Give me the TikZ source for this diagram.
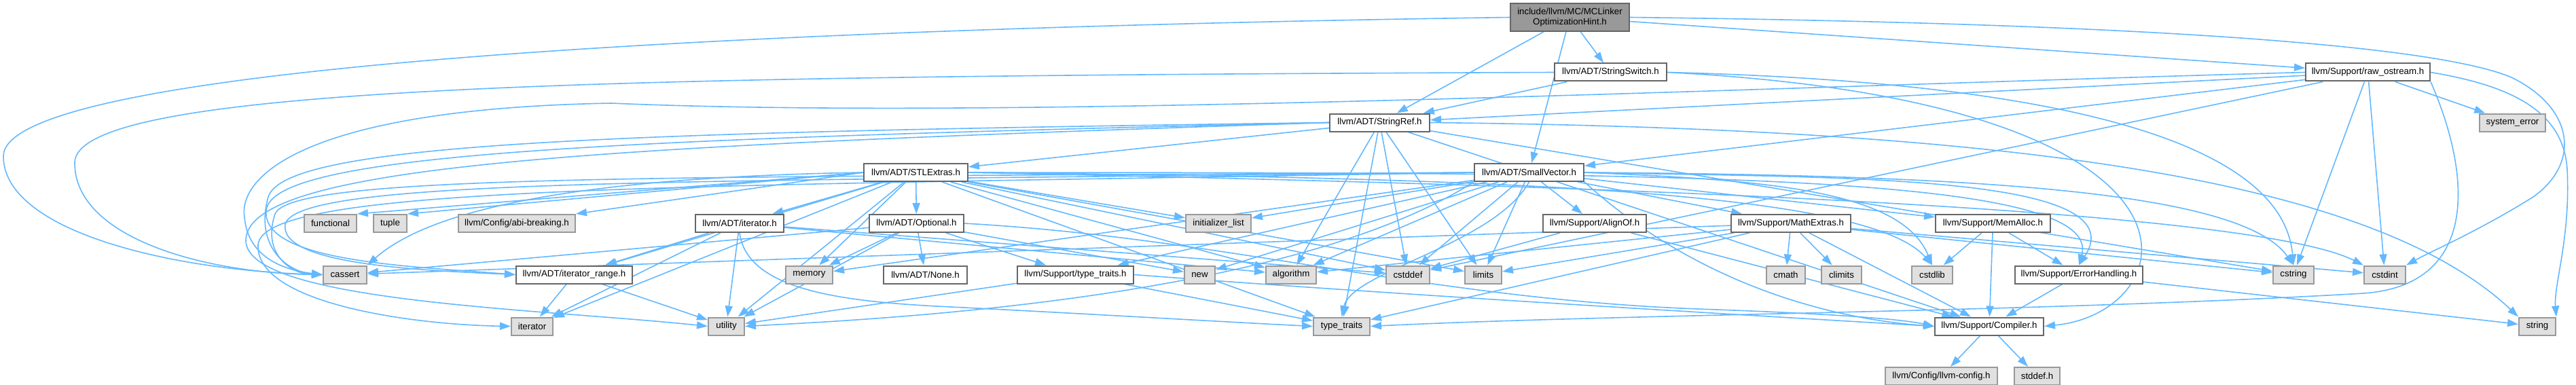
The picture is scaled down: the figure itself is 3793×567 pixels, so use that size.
\documentclass[tikz,border=0pt]{standalone}
\usepackage{fontspec}
\setmainfont{Liberation Sans}
\usetikzlibrary{arrows.meta,backgrounds}
\definecolor{edgeblue}{HTML}{63B8FF}
\definecolor{docborder}{HTML}{666666}
\definecolor{extfill}{HTML}{E0E0E0}
\definecolor{extborder}{HTML}{999999}
\definecolor{mainfill}{HTML}{999999}
\begin{document}
\begin{tikzpicture}[x=1pt,y=-1pt,
  box/.style={draw=docborder, line width=2pt, fill=white, minimum height=26pt, inner sep=0pt,
    font=\fontsize{13.3}{14.5}\selectfont, anchor=center},
  doc/.style={box},
  ext/.style={box, draw=extborder, fill=extfill},
  mainnode/.style={box, fill=mainfill, minimum height=41pt, align=center},
  e/.style={draw=edgeblue, line width=1.6pt, -{Triangle[length=16pt,width=11pt]}},
]
\useasboundingbox (0,0) rectangle (3793,567);
% row A/B/C/D
\node[mainnode, minimum width=175pt] (main) at (2311.5,25.5) {include/llvm/MC/MCLinker\\OptimizationHint.h};
\node[doc, minimum width=165pt] (sswitch) at (2371.5,106.5) {llvm/ADT/StringSwitch.h};
\node[doc, minimum width=183pt] (rawos) at (3486.5,106.5) {llvm/Support/raw\_ostream.h};
\node[doc, minimum width=147pt] (sref) at (2031.5,180.5) {llvm/ADT/StringRef.h};
\node[ext, minimum width=97pt] (syserr) at (3699.5,180.5) {system\_error};
\node[doc, minimum width=153pt] (stlx) at (1348.5,254) {llvm/ADT/STLExtras.h};
\node[doc, minimum width=161pt] (svec) at (2251.5,254) {llvm/ADT/SmallVector.h};
% row E
\node[ext, minimum width=77pt] (functional) at (486.5,329) {functional};
\node[ext, minimum width=49pt] (tuple) at (574.5,329) {tuple};
\node[ext, minimum width=172pt] (abi) at (761,329) {llvm/Config/abi-breaking.h};
\node[doc, minimum width=130pt] (iterh) at (1089,329) {llvm/ADT/iterator.h};
\node[doc, minimum width=139pt] (optional) at (1349.5,329) {llvm/ADT/Optional.h};
\node[ext, minimum width=96pt] (initlist) at (1794,329) {initializer\_list};
\node[doc, minimum width=152pt] (alignof) at (2348,329) {llvm/Support/AlignOf.h};
\node[doc, minimum width=176pt] (mathx) at (2637,329) {llvm/Support/MathExtras.h};
\node[doc, minimum width=169pt] (memalloc) at (2934.5,329) {llvm/Support/MemAlloc.h};
% row F
\node[ext, minimum width=64pt] (cassert) at (508,404.5) {cassert};
\node[doc, minimum width=171pt] (iterrange) at (845.5,404.5) {llvm/ADT/iterator\_range.h};
\node[ext, minimum width=69pt] (memory) at (1191.5,404.5) {memory};
\node[doc, minimum width=123pt] (none) at (1362.5,404.5) {llvm/ADT/None.h};
\node[doc, minimum width=171pt] (typetraitsh) at (1583.5,404.5) {llvm/Support/type\_traits.h};
\node[ext, minimum width=45pt] (new) at (1766.5,404.5) {new};
\node[ext, minimum width=74pt] (algorithm) at (1901,404.5) {algorithm};
\node[ext, minimum width=64pt] (cstddef) at (2073,404.5) {cstddef};
\node[ext, minimum width=54pt] (limits) at (2184,404.5) {limits};
\node[ext, minimum width=57pt] (cmath) at (2629.5,404.5) {cmath};
\node[ext, minimum width=59pt] (climits) at (2711.5,404.5) {climits};
\node[ext, minimum width=60pt] (cstdlib) at (2845,404.5) {cstdlib};
\node[doc, minimum width=188pt] (errh) at (3061,404.5) {llvm/Support/ErrorHandling.h};
\node[ext, minimum width=60pt] (cstring) at (3377,404.5) {cstring};
\node[ext, minimum width=61pt] (cstdint) at (3511.5,404.5) {cstdint};
% row G
\node[ext, minimum width=61pt] (iterator) at (783.5,480.5) {iterator};
\node[ext, minimum width=53pt] (utility) at (1069.5,480.5) {utility};
\node[ext, minimum width=83pt] (typetraits) at (1975.5,480.5) {type\_traits};
\node[doc, minimum width=160pt] (compiler) at (2929,480.5) {llvm/Support/Compiler.h};
\node[ext, minimum width=54pt] (string) at (3736,480.5) {string};
% row H
\node[ext, minimum width=165pt] (llvmconfig) at (2858.5,554) {llvm/Config/llvm-config.h};
\node[ext, minimum width=67pt] (stddef) at (2999.5,554) {stddef.h};

\begin{pgfonlayer}{background}
% main
\draw[e] (main.west) .. controls (900,45) and (5,110) .. (5,230) .. controls (5,340) and (250,398) .. (cassert.west);
\draw[e] (main) -- (sref);
\draw[e] (main) -- (svec);
\draw[e] (main) -- (sswitch);
\draw[e] (main) -- (rawos);
\draw[e] (main.east) .. controls (3200,35) and (3600,70) .. (3700,115) .. controls (3790,160) and (3800,240) .. (3730,290) .. controls (3650,340) and (3580,370) .. (cstdint.north east);
% StringSwitch
\draw[e] (sswitch) -- (sref);
\draw[e] (sswitch.west) .. controls (900,112) and (110,125) .. (110,240) .. controls (110,350) and (300,402) .. (cassert.west);
\draw[e] (sswitch.east) .. controls (3000,120) and (3360,200) .. (cstring.north);
\draw[e] (sswitch.east) .. controls (3300,150) and (3220,460) .. (compiler.east);
% raw_ostream
\draw[e] (rawos) -- (sref);
\draw[e] (rawos) -- (svec);
\draw[e] (rawos) -- (syserr);
\draw[e] (rawos) -- (cstring);
\draw[e] (rawos) -- (cstdint);
\draw[e] (rawos) -- (cstddef);
\draw[e] (rawos.east) .. controls (3690,125) and (3775,160) .. (3780,250) .. controls (3785,350) and (3760,420) .. (string.north east);
\draw[e] (rawos.south east) .. controls (3640,260) and (3650,420) .. (3480,432) .. controls (3000,460) and (2400,462) .. (typetraits.east);
\draw[e] (rawos.west) .. controls (2600,128) and (1500,178) .. (900,152) .. controls (450,160) and (350,260) .. (360,320) .. controls (365,380) and (420,398) .. (cassert.west);
% StringRef
\draw[e] (sref) -- (stlx);
\draw[e] (sref.west) .. controls (900,195) and (420,210) .. (395,290) .. controls (375,360) and (420,400) .. (cassert.west);
\draw[e] (sref.west) .. controls (900,205) and (400,225) .. (392,310) .. controls (385,385) and (600,392) .. (iterrange.west);
\draw[e] (sref.west) .. controls (900,215) and (360,240) .. (362,355) .. controls (365,445) and (800,455) .. (utility.west);
\draw[e] (sref) -- (compiler);
\draw[e] (sref) -- (cstring);
\draw[e] (sref.east) .. controls (3000,190) and (3500,270) .. (string.north west);
\draw[e] (sref) -- (limits);
\draw[e] (sref) -- (cstddef);
\draw[e] (sref) -- (algorithm);
\draw[e] (sref) -- (typetraits);
% STLExtras
\draw[e] (stlx) -- (optional);
\draw[e] (stlx) -- (iterh);
\draw[e] (stlx) -- (iterrange);
\draw[e] (stlx.west) -- (abi.north east);
\draw[e] (stlx.west) -- (tuple.north east);
\draw[e] (stlx.west) -- (functional.north east);
\draw[e] (stlx.west) .. controls (800,262) and (620,320) .. (cassert.north east);
\draw[e] (stlx.east) .. controls (2400,255) and (3100,250) .. (errh.north);
\draw[e] (stlx) -- (algorithm);
\draw[e] (stlx) -- (cstddef);
\draw[e] (stlx.east) .. controls (2200,270) and (3300,300) .. (cstdint.north west);
\draw[e] (stlx.east) .. controls (2200,262) and (2750,280) .. (cstdlib.north);
\draw[e] (stlx) -- (initlist);
\draw[e] (stlx) -- (iterator);
\draw[e] (stlx) -- (limits);
\draw[e] (stlx) -- (memory);
\draw[e] (stlx) -- (typetraits);
\draw[e] (stlx) -- (utility);
% iterator.h
\draw[e] (iterh) -- (iterrange);
\draw[e] (iterh) -- (iterator);
\draw[e] (iterh) -- (utility);
\draw[e] (iterh.south) .. controls (1100,430) and (1250,445) .. (1400,452) .. controls (1600,462) and (1800,474) .. (typetraits.west);
\draw[e] (iterh) -- (cstddef);
\draw[e] (iterh) -- (algorithm);
% iterator_range.h
\draw[e] (iterrange) -- (iterator);
\draw[e] (iterrange) -- (utility);
% Optional.h
\draw[e] (optional) -- (none);
\draw[e] (optional) -- (typetraitsh);
\draw[e] (optional) -- (memory);
\draw[e] (optional) -- (new);
\draw[e] (optional) -- (utility);
\draw[e] (optional) -- (cassert);
\draw[e] (optional.east) .. controls (1800,350) and (2100,440) .. (2500,455) .. controls (2700,462) and (2800,470) .. (compiler.west);
% type_traits.h
\draw[e] (typetraitsh) -- (utility);
\draw[e] (typetraitsh) -- (typetraits);
\draw[e] (typetraitsh.east) .. controls (2000,430) and (2500,460) .. (compiler.west);
% SmallVector
\draw[e] (svec.west) .. controls (1000,262) and (430,255) .. (405,315) .. controls (385,375) and (430,404) .. (cassert.west);
\draw[e] (svec.west) .. controls (1000,268) and (440,262) .. (420,330) .. controls (410,390) and (620,398) .. (iterrange.west);
\draw[e] (svec.west) .. controls (1000,275) and (390,272) .. (380,360) .. controls (375,445) and (600,478) .. (iterator.west);
\draw[e] (svec) -- (alignof);
\draw[e] (svec) -- (mathx);
\draw[e] (svec) -- (memalloc);
\draw[e] (svec) -- (typetraitsh);
\draw[e] (svec) -- (algorithm);
\draw[e] (svec) -- (cstddef);
\draw[e] (svec) -- (limits);
\draw[e] (svec) -- (initlist);
\draw[e] (svec) -- (new);
\draw[e] (svec) -- (memory);
\draw[e] (svec.south west) .. controls (1900,440) and (1300,470) .. (utility.east);
\draw[e] (svec.south) .. controls (2200,360) and (1990,400) .. (typetraits.north);
\draw[e] (svec.south east) .. controls (2500,420) and (2700,470) .. (compiler.west);
\draw[e] (svec.east) .. controls (2700,262) and (3150,255) .. (errh.north);
\draw[e] (svec.east) .. controls (2600,265) and (2800,280) .. (cstdlib.north);
\draw[e] (svec.east) .. controls (2900,258) and (3300,280) .. (cstring.north);
% AlignOf
\draw[e] (alignof) -- (cstddef);
\draw[e] (alignof) -- (compiler);
% MathExtras
\draw[e] (mathx) -- (cmath);
\draw[e] (mathx) -- (climits);
\draw[e] (mathx) -- (compiler);
\draw[e] (mathx) -- (cstring);
\draw[e] (mathx) -- (cstdint);
\draw[e] (mathx) -- (limits);
\draw[e] (mathx) -- (algorithm);
\draw[e] (mathx) -- (cassert);
\draw[e] (mathx) -- (typetraits);
% MemAlloc
\draw[e] (memalloc) -- (cstdlib);
\draw[e] (memalloc) -- (compiler);
\draw[e] (memalloc) -- (errh);
% ErrorHandling
\draw[e] (errh) -- (compiler);
\draw[e] (errh) -- (string);
% Compiler
\draw[e] (compiler) -- (llvmconfig);
\draw[e] (compiler) -- (stddef);
\end{pgfonlayer}
\end{tikzpicture}
\end{document}
